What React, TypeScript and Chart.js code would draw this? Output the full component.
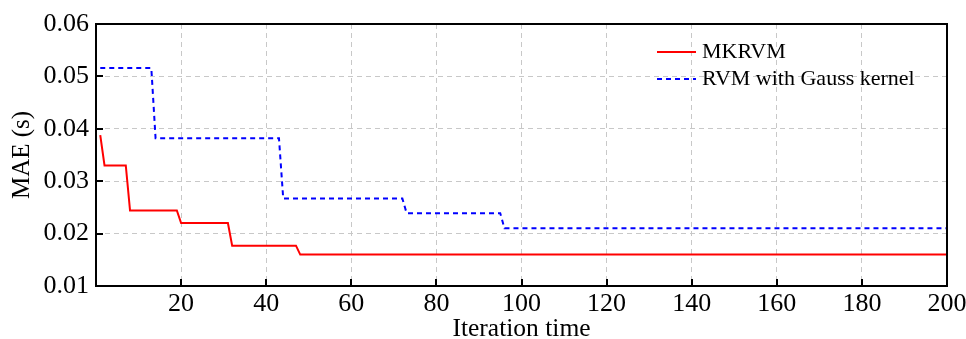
import React, { useEffect, useRef } from "react";
import { Chart, registerables } from "chart.js";

Chart.register(...registerables);

// MKRVM breakpoints (iteration, MAE)
const mkrvmIter = [1, 2, 7, 8, 19, 20, 31, 32, 47, 48, 200];
const mkrvmMae = [0.0388, 0.033, 0.033, 0.0244, 0.0244, 0.022, 0.022, 0.0177, 0.0177, 0.016, 0.016];

// RVM with Gauss kernel breakpoints
const rvmIter = [1, 13, 14, 43, 44, 72, 73, 95, 96, 200];
const rvmMae = [0.0516, 0.0516, 0.0382, 0.0382, 0.0267, 0.0267, 0.0239, 0.0239, 0.021, 0.021];

const seriesLabels = ["MKRVM", "RVM with Gauss kernel"];
const xTickStep = 20;
const xMin = 0;
const xMax = 200;
const yMin = 0.01;
const yMax = 0.06;
const yTickStep = 0.01;
const xTitle = "Iteration time";
const yTitle = "MAE (s)";

const FONT = "'Liberation Serif', 'Times New Roman', serif";

const framePlugin = {
  id: "frameTicks",
  afterDatasetsDraw(chart: any) {
    const { ctx, chartArea, scales } = chart;
    const { left, right, top, bottom } = chartArea;
    ctx.save();
    ctx.strokeStyle = "#000";
    ctx.lineWidth = 2;
    ctx.setLineDash([]);
    const xs = scales.x;
    xs.ticks.forEach((t: any) => {
      const px = Math.round(xs.getPixelForValue(t.value));
      if (px <= left + 1 || px >= right - 1) return;
      ctx.beginPath();
      ctx.moveTo(px, bottom);
      ctx.lineTo(px, bottom - 7);
      ctx.stroke();
    });
    const ys = scales.y;
    ys.ticks.forEach((t: any) => {
      const py = Math.round(ys.getPixelForValue(t.value));
      if (py <= top + 1 || py >= bottom - 1) return;
      ctx.beginPath();
      ctx.moveTo(left, py);
      ctx.lineTo(left + 7, py);
      ctx.stroke();
    });
    ctx.strokeRect(left, top, right - left, bottom - top);
    ctx.restore();
  },
  afterDraw(chart: any) {
    const { ctx } = chart;
    const rows = [52, 79];
    ctx.save();
    chart.data.datasets.forEach((ds: any, i: number) => {
      const y = rows[i];
      ctx.strokeStyle = ds.borderColor;
      ctx.lineWidth = ds.borderWidth;
      ctx.setLineDash(ds.borderDash || []);
      ctx.beginPath();
      ctx.moveTo(657, y);
      ctx.lineTo(696, y);
      ctx.stroke();
      ctx.setLineDash([]);
      ctx.fillStyle = "#000";
      ctx.font = `22px ${FONT}`;
      ctx.textBaseline = "middle";
      ctx.textAlign = "left";
      ctx.fillText(ds.label, 702, y);
    });
    ctx.restore();
  },
};

export default function App() {
  const ref = useRef<HTMLCanvasElement | null>(null);

  useEffect(() => {
    document.body.style.margin = "0";
    const canvas = ref.current;
    if (!canvas) return;
    const chart = new Chart(canvas, {
      type: "line",
      data: {
        datasets: [
          {
            label: seriesLabels[0],
            data: mkrvmIter.map((x, i) => ({ x, y: mkrvmMae[i] })),
            borderColor: "#ff0000",
            backgroundColor: "#ff0000",
            borderWidth: 2,
            pointRadius: 0,
            tension: 0,
            fill: false,
          },
          {
            label: seriesLabels[1],
            data: rvmIter.map((x, i) => ({ x, y: rvmMae[i] })),
            borderColor: "#0000ff",
            backgroundColor: "#0000ff",
            borderWidth: 2,
            borderDash: [5, 4],
            pointRadius: 0,
            tension: 0,
            fill: false,
          },
        ],
      },
      options: {
        animation: false,
        responsive: false,
        maintainAspectRatio: false,
        layout: { padding: { top: 24, right: 19, left: 0, bottom: 0 } },
        plugins: {
          legend: { display: false },
          tooltip: { enabled: false },
        },
        scales: {
          x: {
            type: "linear",
            min: xMin,
            max: xMax,
            afterFit: (s: any) => {
              s.height = 53;
              s.paddingLeft = 0;
              s.paddingRight = 0;
            },
            ticks: {
              stepSize: xTickStep,
              color: "#000",
              padding: 3,
              maxRotation: 0,
              font: { family: FONT, size: 26 },
              callback: (v: any) => (v === 0 ? "" : String(v)),
            },
            grid: {
              color: "#c8c8c8",
              lineWidth: 1,
              drawTicks: false,
            },
            border: { display: false, dash: [5, 4] },
            title: {
              display: true,
              text: xTitle,
              color: "#000",
              font: { family: FONT, size: 25.5, lineHeight: 0.8 },
              padding: { top: 0, bottom: 0 },
            },
          },
          y: {
            type: "linear",
            min: yMin,
            max: yMax,
            afterFit: (s: any) => {
              s.width = 96;
              s.paddingTop = 0;
              s.paddingBottom = 0;
            },
            ticks: {
              stepSize: yTickStep,
              color: "#000",
              padding: 7,
              font: { family: FONT, size: 26 },
              callback: (v: any) => Number(v).toFixed(2),
            },
            grid: {
              color: "#c8c8c8",
              lineWidth: 1,
              drawTicks: false,
            },
            border: { display: false, dash: [5, 4] },
            title: {
              display: true,
              text: yTitle,
              color: "#000",
              font: { family: FONT, size: 25, lineHeight: 1.2 },
              padding: { top: 7, bottom: 0 },
            },
          },
        },
      },
      plugins: [framePlugin],
    });
    return () => chart.destroy();
  }, []);

  return (
    <div style={{ width: 966, height: 339, background: "#fff" }}>
      <canvas ref={ref} width={966} height={339} style={{ display: "block", width: 966, height: 339 }} />
    </div>
  );
}
